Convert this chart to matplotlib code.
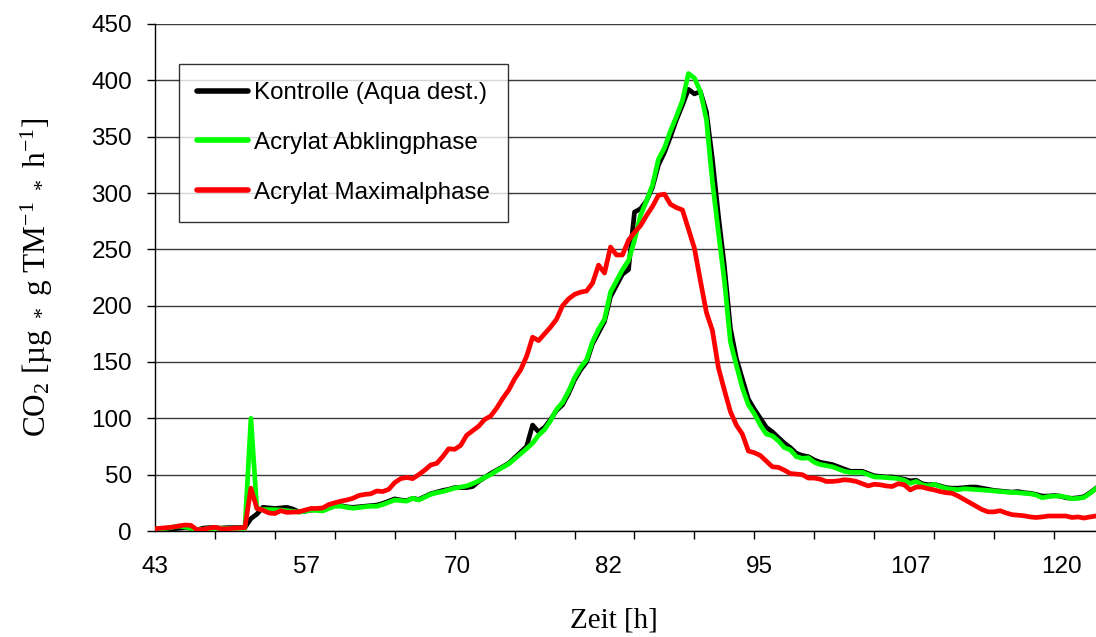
import matplotlib
matplotlib.use('Agg')
import matplotlib.pyplot as plt
import numpy as np

# CO2 release, one value per sampling step
kontrolle = [1, 1, 1.5, 2, 2.5, 3, 2.5, 1, 2.5, 3, 3, 2.5, 3, 3, 3, 3,
             11, 15, 21, 20.5, 20, 20.5, 21, 19.5, 17, 17.5, 18.5, 19, 19.5, 21.5,
             23, 22.5, 21.5, 21, 21.5, 22, 22.5, 23, 24.5, 26.5, 28.5, 27.5, 27, 29,
             28, 30.5, 33, 34.5, 36, 37, 38.5, 38.5, 38.5, 39.5, 44, 47.5, 51, 54,
             57, 60, 65, 70, 75, 94, 88, 92, 99, 107, 112, 122, 134, 143, 150, 166,
             176, 186, 208, 218, 228, 232, 283, 286, 293, 305, 325, 336, 350, 365,
             378, 392, 388, 390, 372, 330, 280, 235, 180, 153, 135, 117, 108, 100,
             92, 88, 83, 78, 74, 69, 67, 66, 63, 61, 60, 59, 57, 55, 53, 53, 53, 51,
             49, 48.5, 48, 48, 47, 46, 44.5, 45, 42, 41, 41.5, 40, 38.5, 38, 38,
             38.5, 39, 39, 38, 37, 36, 35.5, 35, 34.5, 35, 34, 33.5, 32.5, 31, 31,
             31.5, 31, 29.5, 29, 29.5, 30.5, 34, 38]
abkling = [1.5, 2, 2.5, 3.5, 4.4, 3.5, 2.5, 1, 1.5, 2, 2.4, 2.4, 2.4, 2.4, 2.4, 2.4,
           100, 20, 19, 19, 18.8, 18.6, 18, 17.5, 16.8, 17.5, 18.6, 18.2, 17.8, 20,
           22, 22, 21, 20.2, 20.8, 21.5, 22, 22, 23.5, 25.5, 27.5, 27, 26.5, 29,
           27.5, 30, 32.5, 34, 35, 36.5, 38, 39, 40, 42, 44.5, 47.5, 50, 53.5,
           56.5, 59.5, 64, 68.5, 73, 78, 85, 90, 98, 108, 114, 124, 136, 145, 152,
           168, 179, 188, 212, 222, 232, 240, 258, 280, 293, 307, 330, 340, 355,
           368, 382, 406, 402, 390, 365, 310, 265, 222, 168, 147, 127, 112, 104,
           94, 86, 84.5, 80, 74, 72, 66, 64.5, 65, 61, 59, 58, 57, 55, 53, 52, 52,
           52, 50, 48, 47.8, 47.4, 47, 46.5, 45, 42.3, 44, 41, 40, 41.5, 39.5,
           37.8, 37.2, 36.7, 37.5, 37.2, 36.7, 36.4, 36, 35.5, 35, 34.6, 34.2, 34,
           33.5, 33, 32, 29.5, 30.5, 31, 31, 30, 28.6, 29, 29.8, 33.5, 37.8]
maximal = [2, 2.5, 3, 3.5, 4.5, 5.3, 5, 1, 1.5, 2.5, 3.3, 2, 2, 2.4, 2.7, 3,
           38, 20, 18.5, 16, 15.5, 18, 16.5, 16.8, 17, 18.5, 20, 20, 20.5, 23.5,
           25, 26.5, 27.5, 29, 31.5, 32.5, 33, 35.5, 35, 37, 43, 46.5, 47.5, 46.5,
           50, 54, 58.6, 60, 66, 73, 72.5, 76, 85, 89, 93, 99, 102, 109, 117.5,
           125, 135, 143, 155, 172, 169, 175, 181, 188, 200, 206, 210, 212, 213,
           220, 236, 229, 252, 245, 245, 258, 265, 271, 280, 288, 298, 299, 290,
           287, 285, 268, 251, 222, 194, 178, 145, 125, 106, 94, 86, 71, 69.5, 67,
           62, 57, 56.5, 54, 51, 50.5, 50, 47, 47, 46, 44, 44, 44.5, 45.5, 45, 44,
           42, 40, 41.5, 41, 40, 39.5, 42, 41, 36.5, 39, 39, 37.5, 36.5, 35, 34,
           33.5, 31, 28, 25, 22, 19, 17, 17, 18, 16, 14.5, 14, 13.5, 12.5, 12,
           12.5, 13.3, 13.3, 13.3, 13.3, 12, 12.5, 11.5, 12.5, 13.3]

x_labels = ['43', '57', '70', '82', '95', '107', '120']
y_ticks = [0, 50, 100, 150, 200, 250, 300, 350, 400, 450]

plt.rcParams['font.family'] = ['Liberation Sans', 'DejaVu Sans']
plt.rcParams['mathtext.fontset'] = 'custom'
plt.rcParams['mathtext.rm'] = 'Liberation Serif'
plt.rcParams['mathtext.it'] = 'Liberation Serif:italic'

fig = plt.figure(figsize=(10.96, 6.37), dpi=100)
ax = fig.add_axes([155 / 1096, 1 - 531 / 637, 1 - 155 / 1096, (531 - 24) / 637])

ax.plot(np.arange(len(kontrolle)), kontrolle, color='black', lw=3.4,
        solid_joinstyle='round', label='Kontrolle (Aqua dest.)', zorder=3)
ax.plot(np.arange(len(abkling)), abkling, color='#00ff00', lw=3.4,
        solid_joinstyle='round', label='Acrylat Abklingphase', zorder=4)
ax.plot(np.arange(len(maximal)), maximal, color='#ff0000', lw=3.4,
        solid_joinstyle='round', label='Acrylat Maximalphase', zorder=5)

ax.set_xlim(0, 157)
ax.set_ylim(0, 450)
ax.set_yticks(y_ticks)
ax.yaxis.grid(True, color='#3a3a3a', lw=1.0)
ax.set_axisbelow(True)

ax.set_xticks(np.arange(len(x_labels)) * 25.2)
ax.set_xticklabels(x_labels)
ax.set_xticks(np.arange(0, 158, 10), minor=True)
ax.tick_params(axis='x', which='major', length=0, pad=18, labelsize=17.5)
ax.tick_params(axis='x', which='minor', length=6, width=1, direction='out')
ax.tick_params(axis='y', length=6, width=1, direction='out', pad=10.5, labelsize=17.5)

for s in ['top', 'right']:
    ax.spines[s].set_visible(False)
ax.spines['left'].set_linewidth(1)
ax.spines['bottom'].set_linewidth(1)

ax.set_ylabel(r'CO$_2$ [µg $_*$ g TM$^{-1}$ $_*$ h$^{-1}$]', family='Liberation Serif',
              fontsize=22.5)
ax.yaxis.set_label_coords(-0.106, 0.5)
ax.set_xlabel('Zeit [h]', family='Liberation Serif', fontsize=21)
ax.xaxis.set_label_coords(0.488, -0.15)

leg = ax.legend(loc='upper left', bbox_to_anchor=(179 / 1096, 1 - 64 / 637),
                bbox_transform=fig.transFigure, fontsize=17.4, frameon=True,
                fancybox=False, edgecolor='black', borderaxespad=0,
                handlelength=2.1, handletextpad=0.25, labelspacing=1.15,
                borderpad=0.75)
leg.get_frame().set_linewidth(1)
for line in leg.get_lines():
    line.set_solid_capstyle('round')
    line.set_linewidth(4)

fig.savefig('out.png', dpi=100)
